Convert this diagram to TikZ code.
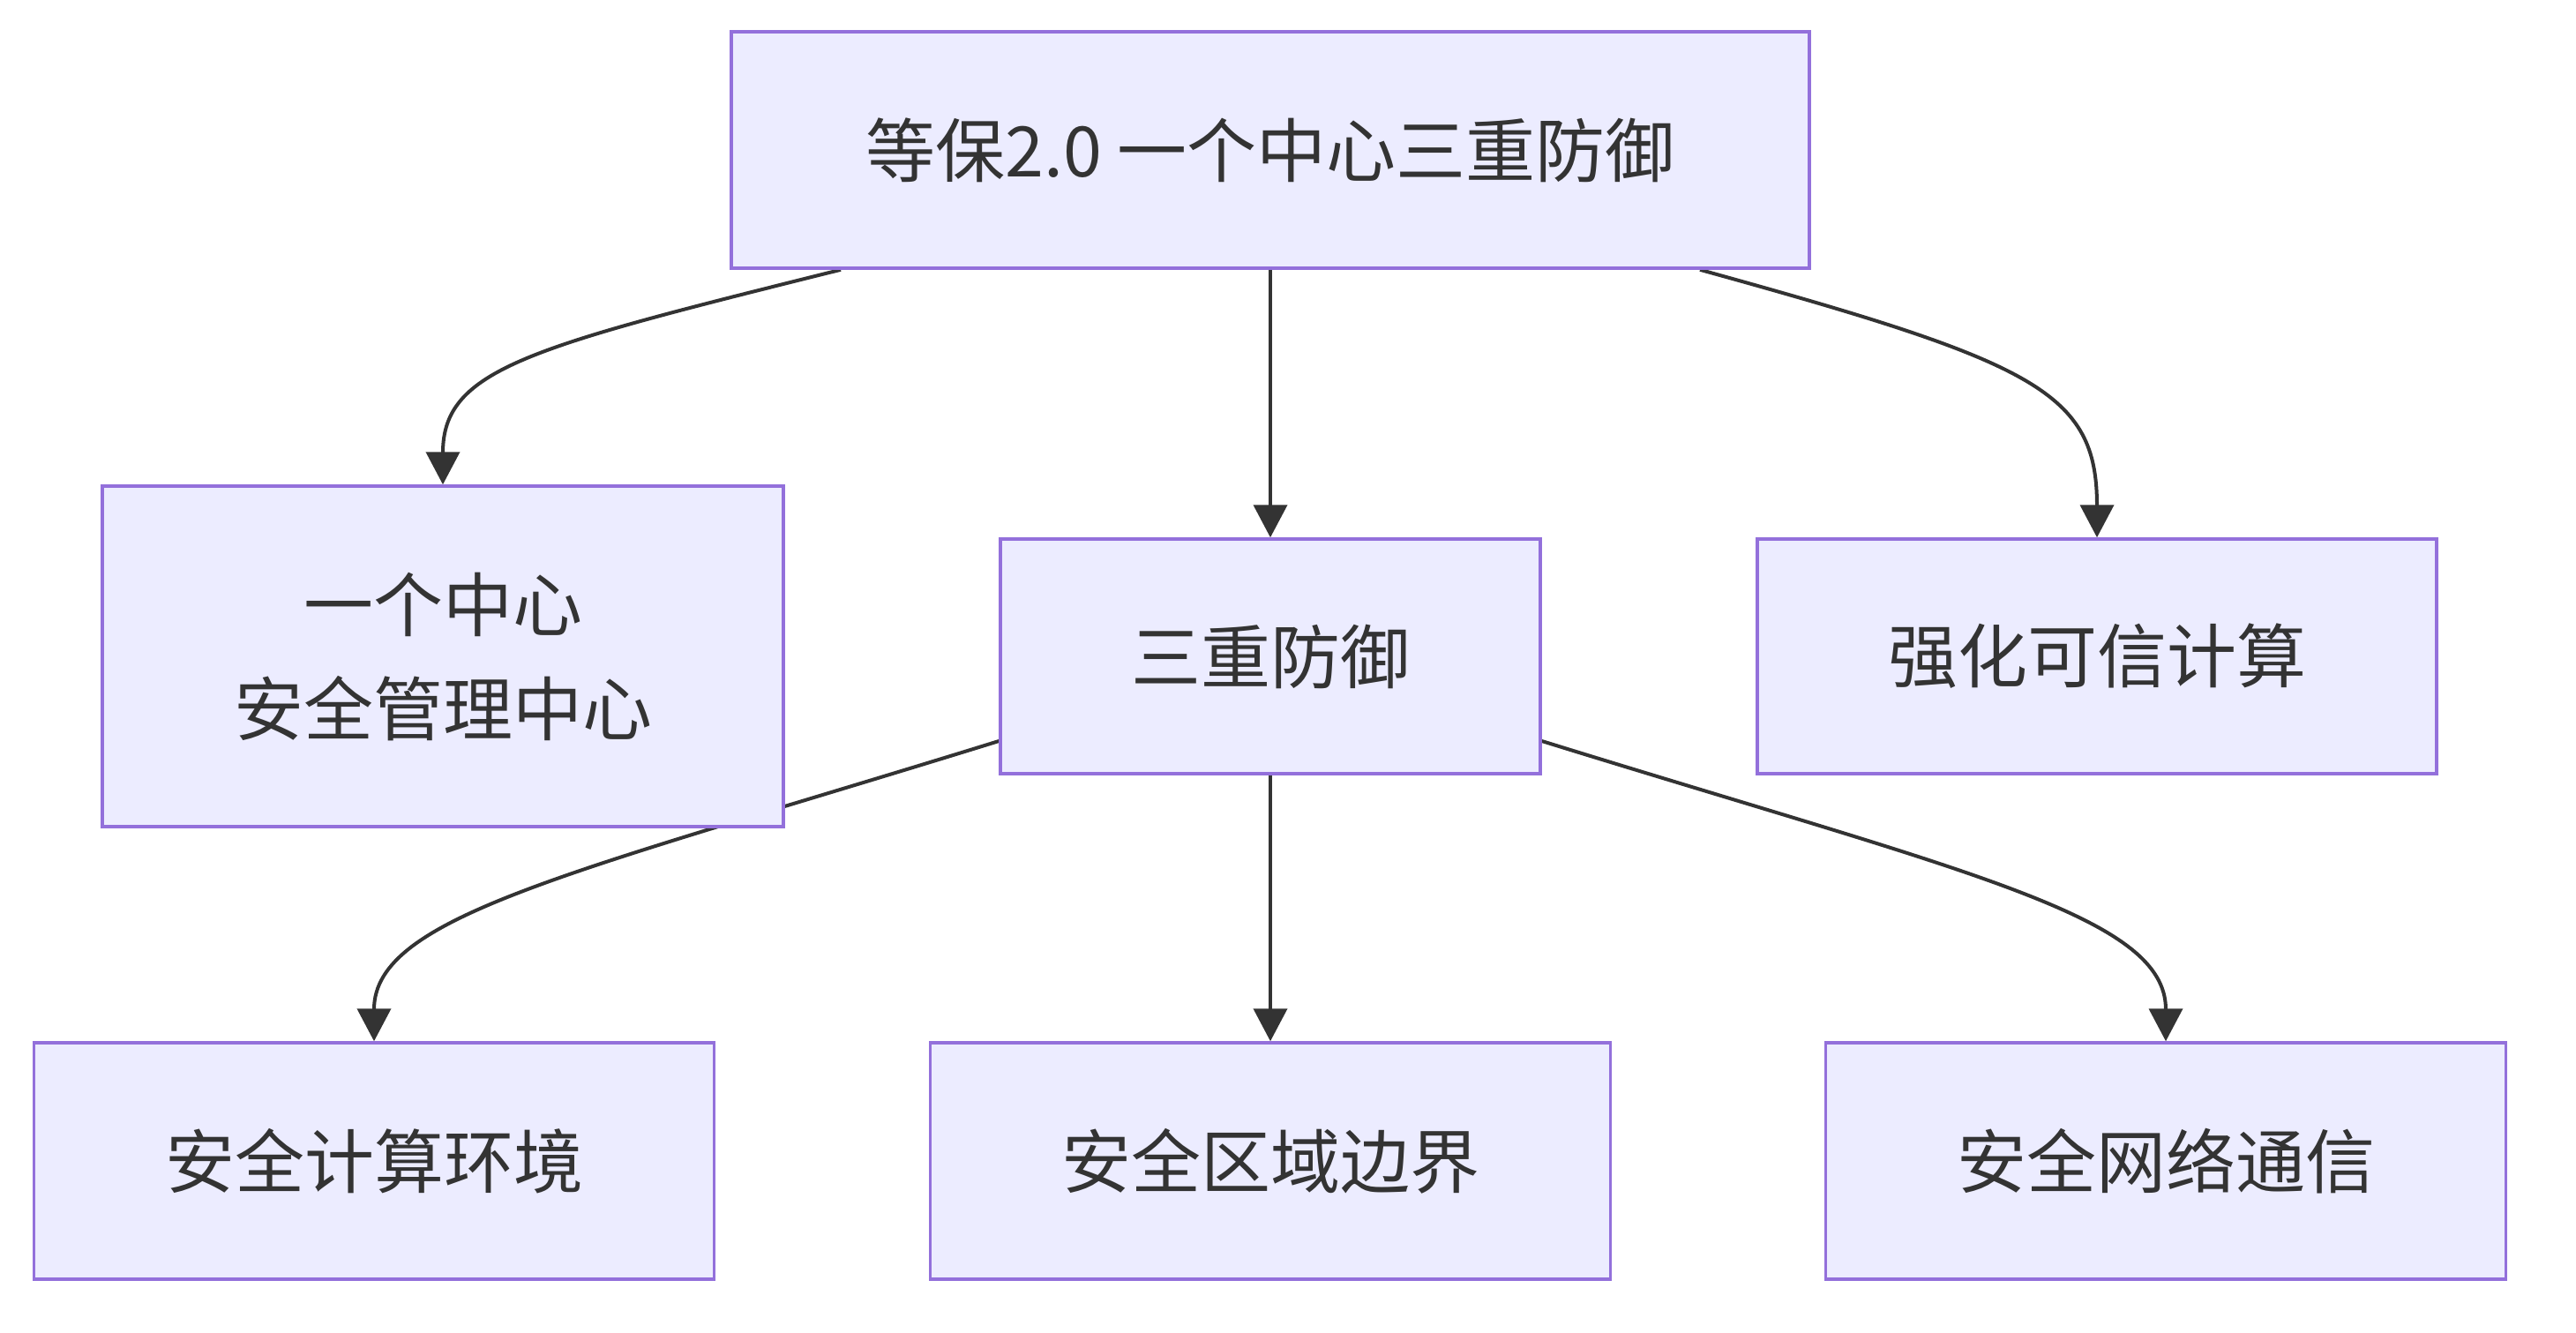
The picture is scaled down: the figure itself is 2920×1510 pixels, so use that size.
\documentclass[tikz,border=0pt]{standalone}
\usepackage{fontspec}
\setmainfont{Noto Sans CJK SC}
\usetikzlibrary{arrows.meta,calc,backgrounds}
\definecolor{nodefill}{HTML}{ECECFF}
\definecolor{nodeborder}{HTML}{9370DB}
\definecolor{ink}{HTML}{333333}
\tikzset{
  box/.style={draw=nodeborder, fill=nodefill, line width=3.5pt, text=ink,
    align=center, inner sep=0pt, font=\fontsize{79}{118}\selectfont},
  link/.style={draw=ink, line width=4pt, -{Triangle[length=37pt,width=38pt]}}
}
\begin{document}
\begin{tikzpicture}[x=1pt,y=-1pt]
\path[use as bounding box] (0,0) rectangle (2920,1510);
\node[box, minimum width=1222pt, minimum height=268pt] (top) at (1440,170) {等保2.0 一个中心三重防御};
\node[box, minimum width=772pt, minimum height=386pt] (n1) at (502,744) {一个中心\\安全管理中心};
\node[box, minimum width=612pt, minimum height=266pt] (n2) at (1440,744) {三重防御};
\node[box, minimum width=770pt, minimum height=266pt] (n3) at (2377,744) {强化可信计算};
\node[box, minimum width=771pt, minimum height=268pt] (b1) at (424,1316) {安全计算环境};
\node[box, minimum width=771pt, minimum height=268pt] (b2) at (1440,1316) {安全区域边界};
\node[box, minimum width=771pt, minimum height=268pt] (b3) at (2455,1316) {安全网络通信};
\begin{scope}[on background layer]
\draw[link] ($(top.south)+(-487,0)$) .. controls +(-353,88) and +(0,-131) .. (n1.north);
\draw[link] (top.south) -- (n2.north);
\draw[link] ($(top.south)+(487,0)$) .. controls +(380,105) and +(0,-165) .. (n3.north);
\draw[link] ($(n2.west)+(0,96)$) .. controls +(-484,150) and +(0,-142) .. (b1.north);
\draw[link] (n2.south) -- (b2.north);
\draw[link] ($(n2.east)+(0,96)$) .. controls +(484,150) and +(0,-142) .. (b3.north);
\end{scope}
\end{tikzpicture}
\end{document}
